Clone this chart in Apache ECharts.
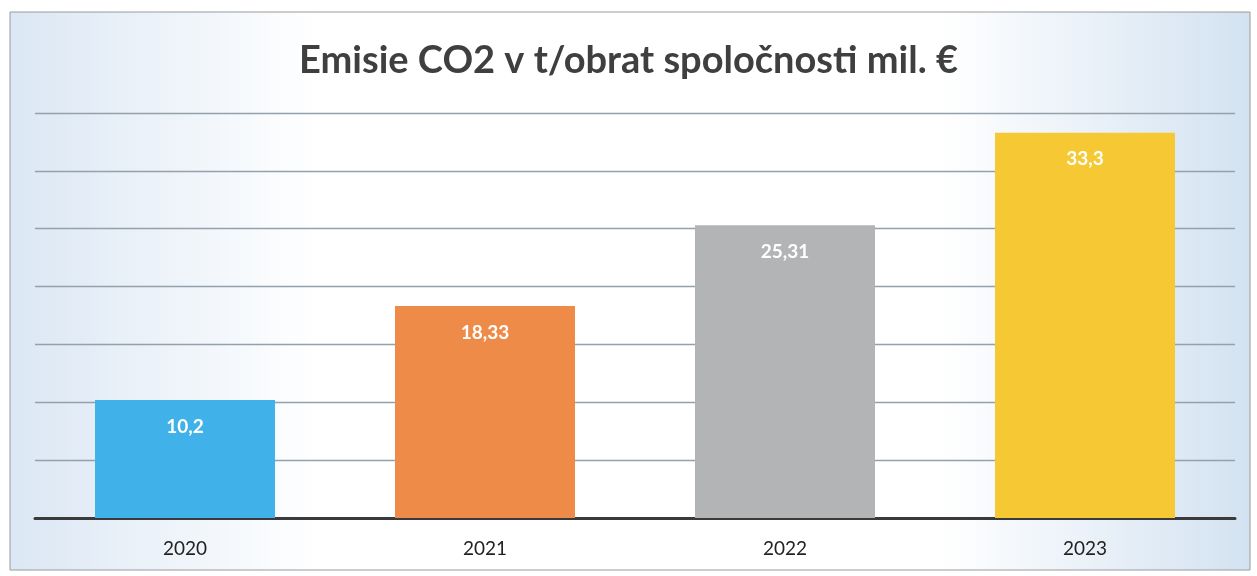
<!DOCTYPE html>
<html>
<head>
<meta charset="utf-8">
<script src="https://cdn.jsdelivr.net/npm/echarts@6/dist/echarts.min.js"></script>
<style>
  html, body { margin: 0; padding: 0; background: #fff; }
  #chart { width: 1257px; height: 576px; }
</style>
</head>
<body>
<div id="chart"></div>
<script>
// chart data
const years = ['2020', '2021', '2022', '2023']
const emissions = [10.2, 18.33, 25.31, 33.3]
const barColors = ['#41b1ea', '#ef8b48', '#b3b4b6', '#f6c934']

const chart = echarts.init(document.getElementById('chart'))

const options = {
  backgroundColor: '#fff',
  animation: false,
  graphic: [{
    type: 'rect',
    z: -10,
    shape: { x: 10, y: 12, width: 1240, height: 558 },
    style: {
      stroke: '#9a9a9a',
      lineWidth: 1,
      fill: {
        type: 'linear', x: 0, y: 0, x2: 1, y2: 0,
        colorStops: [
          { offset: 0, color: '#dbe7f4' },
          { offset: 0.25, color: '#ffffff' },
          { offset: 0.75, color: '#ffffff' },
          { offset: 1, color: '#d3e2f1' }
        ]
      }
    }
  }],
  title: {
    text: 'Emisie CO2 v t/obrat spoločnosti mil. €',
    left: 'center',
    top: 37,
    textStyle: {
      fontFamily: 'Lato',
      fontWeight: 'bold',
      fontSize: 38,
      color: '#3f3f3f'
    }
  },
  grid: {
    left: 35,
    right: 22,
    top: 113,
    bottom: 58
  },
  xAxis: {
    type: 'category',
    data: years,
    axisTick: { show: false },
    axisLine: {
      lineStyle: { color: '#3a3a3a', width: 3 }
    },
    axisLabel: {
      margin: 21,
      fontFamily: 'Lato',
      fontSize: 19,
      color: '#222'
    }
  },
  yAxis: {
    type: 'value',
    min: 0,
    max: 35,
    interval: 5,
    axisLabel: { show: false },
    axisLine: { show: false },
    axisTick: { show: false },
    splitLine: {
      lineStyle: { color: '#94a0aa', width: 1.3 }
    }
  },
  series: [{
    type: 'bar',
    barWidth: '60%',
    data: emissions.map((v, i) => ({
      value: v,
      itemStyle: { color: barColors[i] }
    })),
    label: {
      show: true,
      position: 'insideTop',
      distance: 17,
      fontFamily: 'Lato',
      fontWeight: 'bold',
      fontSize: 19,
      color: '#fff',
      formatter: (p) => String(p.value).replace('.', ',')
    }
  }]
}

chart.setOption(options)
</script>
</body>
</html>
